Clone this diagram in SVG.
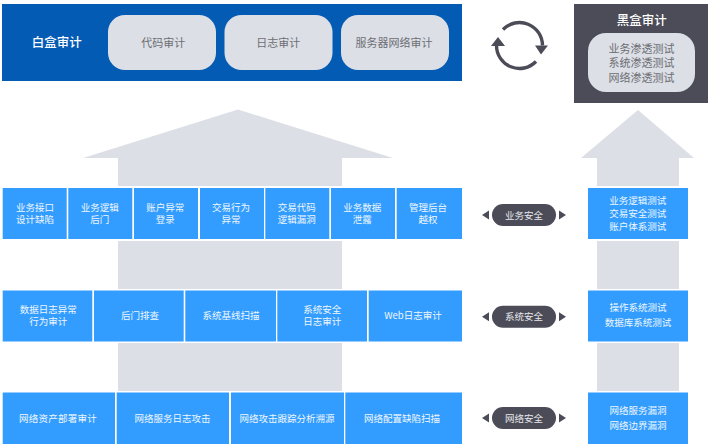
<svg xmlns="http://www.w3.org/2000/svg" width="710" height="447" viewBox="0 0 710 447">
<style>
text{font-family:"Noto Sans CJK SC","Noto Sans",sans-serif;text-anchor:middle}
.b{fill:#339dff}
.t{fill:#fff;font-size:9.500px;opacity:.92}
.g{fill:#dcdfe6}
.p{fill:#dcdfe6}
.gt{fill:#6c6e73;font-size:11px}
.d{fill:#4b4c58}
.pt{fill:#e8e8ec;font-size:9.500px}
.h{fill:#fff;font-size:12.500px;font-weight:500}
</style>
<defs>
<g id="dbl"><rect x="-32" y="-11" width="64" height="22" rx="11" class="d"/><path d="M-35-4.500V4.500L-42 0ZM35-4.500V4.500L42 0Z" class="d"/></g>
</defs>
<g id="connectors">
<path class="g" d="M238 109.500L393 158H342V186H118V158H83Z"/>
<rect class="g" x="118" y="241" width="224" height="48"/>
<rect class="g" x="118" y="343" width="224" height="48"/>
<path class="g" d="M638 110L694 158H679V186H597V158H581Z"/>
<rect class="g" x="597" y="241" width="82" height="48"/>
<rect class="g" x="597" y="343" width="82" height="48"/>
</g>
<g id="whitebox">
<rect x="2" y="4" width="460" height="77" fill="#045bb3"/>
<text class="h" x="56.700" y="47">白盒审计</text>
</g>
<g id="n-code"><rect class="p" x="108" y="15" width="108" height="55" rx="17"/><text class="gt" x="163.300" y="47">代码审计</text></g>
<g id="n-log"><rect class="p" x="224.500" y="15" width="108" height="55" rx="17"/><text class="gt" x="278.300" y="47">日志审计</text></g>
<g id="n-net"><rect class="p" x="341" y="15" width="108" height="55" rx="17"/><text class="gt" x="394" y="47">服务器网络审计</text></g>
<g id="cycle" fill="none" stroke="#4b4c58" stroke-width="3.400">
<path d="M503 29.500A23 23 0 0 1 542.500 45.500"/>
<path d="M536 61.500A23 23 0 0 1 496.500 45.500"/>
<path d="M535 45.500H548L541 54.500ZM491 46H505L498 37Z" fill="#4b4c58" stroke="none"/>
</g>
<g id="blackbox">
<rect x="574" y="4" width="134" height="99" fill="#4b4c58"/>
<text class="h" x="641.700" y="24.500">黑盒审计</text>
<rect class="p" x="588" y="33" width="107" height="59" rx="18"/>
<text class="gt" x="641.500" y="53">业务渗透测试</text>
<text class="gt" x="641.500" y="67">系统渗透测试</text>
<text class="gt" x="641.500" y="82">网络渗透测试</text>
</g>
<g id="r1">
<g id="a1"><rect class="b" x="2.700" y="188" width="64" height="51"/><text class="t" x="35" y="210.500">业务接口</text><text class="t" x="35" y="222.500">设计缺陷</text></g>
<g id="a2"><rect class="b" x="68.300" y="188" width="64" height="51"/><text class="t" x="99.700" y="210.500">业务逻辑</text><text class="t" x="99.700" y="222.500">后门</text></g>
<g id="a3"><rect class="b" x="134" y="188" width="64" height="51"/><text class="t" x="165.300" y="210.500">账户异常</text><text class="t" x="165.300" y="222.500">登录</text></g>
<g id="a4"><rect class="b" x="200" y="188" width="64" height="51"/><text class="t" x="231" y="210.500">交易行为</text><text class="t" x="231" y="222.500">异常</text></g>
<g id="a5"><rect class="b" x="265.300" y="188" width="64" height="51"/><text class="t" x="296.700" y="210.500">交易代码</text><text class="t" x="296.700" y="222.500">逻辑漏洞</text></g>
<g id="a6"><rect class="b" x="331" y="188" width="64" height="51"/><text class="t" x="362.300" y="210.500">业务数据</text><text class="t" x="362.300" y="222.500">泄露</text></g>
<g id="a7"><rect class="b" x="396.700" y="188" width="65.300" height="51"/><text class="t" x="428" y="210.500">管理后台</text><text class="t" x="428" y="222.500">越权</text></g>
</g>
<g id="r2">
<g id="s1"><rect class="b" x="2.700" y="290.500" width="89.600" height="51"/><text class="t" x="48.300" y="312.800">数据日志异常</text><text class="t" x="48.300" y="324.800">行为审计</text></g>
<g id="s2"><rect class="b" x="94" y="290.500" width="89.700" height="51"/><text class="t" x="140" y="318.800">后门排查</text></g>
<g id="s3"><rect class="b" x="185.300" y="290.500" width="90.700" height="51"/><text class="t" x="231" y="318.800">系统基线扫描</text></g>
<g id="s4"><rect class="b" x="277.300" y="290.500" width="89.700" height="51"/><text class="t" x="322.300" y="312.800">系统安全</text><text class="t" x="322.300" y="324.800">日志审计</text></g>
<g id="s5"><rect class="b" x="368.700" y="290.500" width="93.300" height="51"/><text class="t" x="413" y="318.800">Web日志审计</text></g>
</g>
<g id="r3">
<g id="w1"><rect class="b" x="2.700" y="392.500" width="112.300" height="51.500"/><text class="t" x="58" y="421.500" letter-spacing=".25">网络资产部署审计</text></g>
<g id="w2"><rect class="b" x="116.700" y="392.500" width="112.300" height="51.500"/><text class="t" x="172.500" y="421.500">网络服务日志攻击</text></g>
<g id="w3"><rect class="b" x="231" y="392.500" width="113" height="51.500"/><text class="t" x="287" y="421.500">网络攻击跟踪分析溯源</text></g>
<g id="w4"><rect class="b" x="345.300" y="392.500" width="116.700" height="51.500"/><text class="t" x="402" y="421.500">网络配置缺陷扫描</text></g>
</g>
<g id="layer-biz"><use href="#dbl" x="524" y="215"/><text class="pt" x="524" y="218.500">业务安全</text></g>
<g id="layer-sys"><use href="#dbl" x="524" y="316.700"/><text class="pt" x="524" y="320.200">系统安全</text></g>
<g id="layer-net"><use href="#dbl" x="524" y="418"/><text class="pt" x="524" y="421.500">网络安全</text></g>
<g id="t1"><rect class="b" x="588" y="188" width="100" height="51"/><text class="t" x="637.700" y="204">业务逻辑测试</text><text class="t" x="637.700" y="217">交易安全测试</text><text class="t" x="637.700" y="229.500">账户体系测试</text></g>
<g id="t2"><rect class="b" x="588" y="290.500" width="100" height="51"/><text class="t" x="638" y="311">操作系统测试</text><text class="t" x="638" y="326">数据库系统测试</text></g>
<g id="t3"><rect class="b" x="588" y="392.500" width="100" height="51.500"/><text class="t" x="638" y="414">网络服务漏洞</text><text class="t" x="638" y="429">网络边界漏洞</text></g>
</svg>
